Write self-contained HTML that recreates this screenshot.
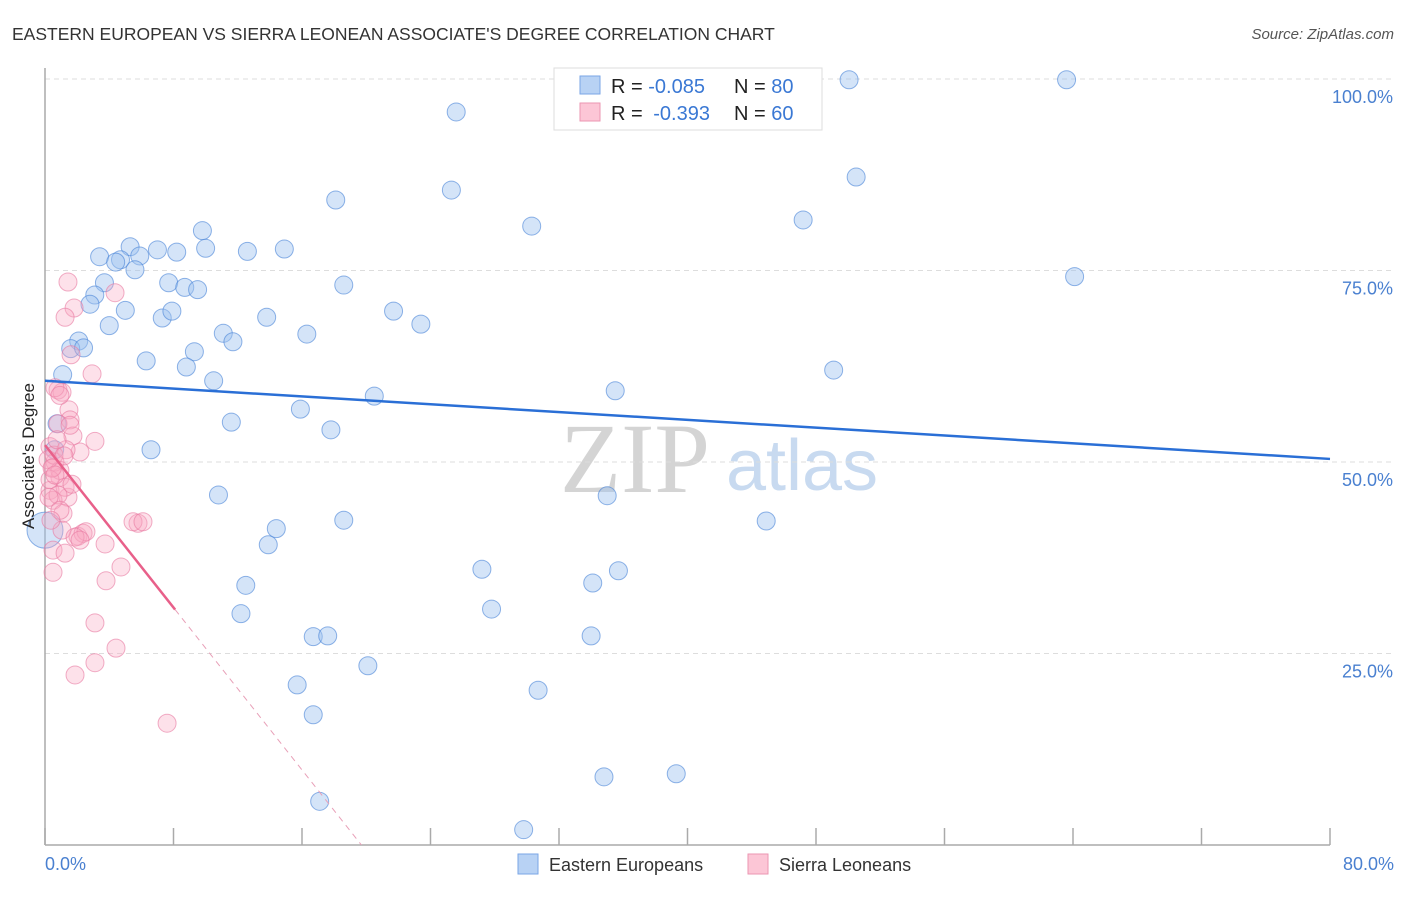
<!DOCTYPE html>
<html><head><meta charset="utf-8">
<style>
body{margin:0;background:#fff;font-family:"Liberation Sans",sans-serif;}
svg text{font-family:"Liberation Sans",sans-serif;}
</style></head>
<body>
<svg width="1406" height="892" viewBox="0 0 1406 892" xmlns="http://www.w3.org/2000/svg">
<text x="12" y="40" font-size="17.5" fill="#333">EASTERN EUROPEAN VS SIERRA LEONEAN ASSOCIATE'S DEGREE CORRELATION CHART</text>
<text x="1394" y="39" font-size="15" font-style="italic" fill="#555" text-anchor="end">Source: ZipAtlas.com</text>
<g>
<text x="635" y="492" font-size="100" style="font-family:'Liberation Serif',serif" fill="#d4d4d4" text-anchor="middle">ZIP</text>
<text x="802" y="490" font-size="72" fill="#c8daf0" text-anchor="middle">atlas</text>
</g>
<g id="grid"></g>
<g id="axes"></g>
<g id="marks"></g>
<text transform="translate(34,456) rotate(-90)" font-size="17" fill="#222" text-anchor="middle">Associate's Degree</text>
<text x="45" y="870" font-size="18" fill="#4a80d0">0.0%</text>
<text x="1394" y="870" font-size="18" fill="#4a80d0" text-anchor="end">80.0%</text>
<g>
<rect x="554" y="68" width="268" height="62" fill="#fff" stroke="#ddd"/>
<rect x="580" y="76" width="20" height="18" fill="#b8d2f4" stroke="#7aa6e6"/>
<rect x="580" y="103" width="20" height="18" fill="#fcc6d6" stroke="#eb96b2"/>
<text x="611" y="93" font-size="20" fill="#222">R = <tspan fill="#3a78d4">-0.085</tspan><tspan x="734">N = </tspan><tspan fill="#3a78d4">80</tspan></text>
<text x="611" y="120" font-size="20" fill="#222">R = <tspan fill="#3a78d4" dx="5">-0.393</tspan><tspan x="734">N = </tspan><tspan fill="#3a78d4">60</tspan></text>
</g>
<g>
<rect x="518" y="854" width="20" height="20" fill="#b8d2f4" stroke="#7aa6e6"/>
<text x="549" y="871" font-size="18" fill="#333">Eastern Europeans</text>
<rect x="748" y="854" width="20" height="20" fill="#fcc6d6" stroke="#eb96b2"/>
<text x="779" y="871" font-size="18" fill="#333">Sierra Leoneans</text>
</g>
</svg>
<script>
const yTicks=[25,50,75,100];
const yTickLabels=["25.0%","50.0%","75.0%","100.0%"];
const xTickVals=[0,8,16,24,32,40,48,56,64,72,80];
const blueX=[50.06,63.6,25.6,25.3,50.5,18.1,30.3,47.2,9.8,5.3,7.0,8.2,10.0,12.6,14.9,3.4,4.7,4.4,5.9,5.6,64.1,7.7,8.7,9.5,3.7,3.1,2.8,18.6,5.0,7.3,7.9,13.8,21.7,23.4,4.0,11.1,16.3,11.7,2.1,1.6,2.4,9.3,6.3,8.8,49.1,1.1,10.5,35.5,20.5,15.9,11.6,0.75,17.8,0.6,6.6,10.8,35.0,18.6,44.9,14.4,13.9,27.2,35.7,12.5,34.1,27.8,12.2,16.7,17.6,34.0,20.1,15.7,30.7,16.7,39.3,34.8,17.1,29.8,0];
const blueY=[99.9,99.9,95.7,85.5,87.2,84.2,80.8,81.6,80.2,78.1,77.7,77.4,77.9,77.5,77.8,76.8,76.4,76.1,76.9,75.1,74.2,73.4,72.8,72.5,73.4,71.8,70.6,73.1,69.8,68.8,69.7,68.9,69.7,68.0,67.8,66.8,66.7,65.7,65.8,64.8,64.9,64.4,63.2,62.4,62.0,61.4,60.6,59.3,58.6,56.9,55.2,55.0,54.2,51.6,51.6,45.7,45.6,42.4,42.3,41.3,39.2,36.0,35.8,33.9,34.2,30.8,30.2,27.2,27.3,27.3,23.4,20.9,20.2,17.0,9.3,8.9,5.7,2.0,41.1];
const blueWeight=[1,1,1,1,1,1,1,1,1,1,1,1,1,1,1,1,1,1,1,1,1,1,1,1,1,1,1,1,1,1,1,1,1,1,1,1,1,1,1,1,1,1,1,1,1,1,1,1,1,1,1,1,1,1,1,1,1,1,1,1,1,1,1,1,1,1,1,1,1,1,1,1,1,1,1,1,1,1,3];
const pinkX=[1.43,4.36,1.81,1.25,1.62,2.93,0.81,1.06,0.62,1.49,1.56,0.81,1.74,3.11,2.18,0.31,0.5,0.93,0.62,0.31,1.43,0.5,1.12,2.05,2.37,3.74,5.79,5.48,6.1,0.5,1.25,0.5,4.73,3.8,3.11,4.42,3.11,1.87,7.6,0.93,0.31,1.25,0.81,0.25,1.06,2.55,0.93,0.19,1.31,0.56,0.44,1.87,0.93,1.56,0.75,1.18,0.62,1.68,2.18,0.37];
const pinkY=[73.5,72.1,70.1,68.9,64.0,61.5,59.4,59.1,59.7,56.8,55.5,55.0,53.4,52.7,51.3,52.0,49.3,48.0,50.0,46.3,45.4,45.0,43.3,40.3,40.7,39.3,42.0,42.2,42.2,38.5,38.1,35.6,36.3,34.5,29.0,25.7,23.8,22.2,15.9,48.9,47.7,46.7,45.7,45.4,41.1,40.9,43.7,50.3,51.6,50.9,49.2,40.2,58.7,54.8,52.9,50.8,48.3,47.1,39.8,42.4];
const blueLine=[60.6,50.4];   // y at x=0 and x=80
const pinkLine=[52.2,-2.65];  // intercept, slope
const pinkSolidEnd=8.1;

const X0=45,X1=1330,Y0=845,Y100=79;
const sx=v=>X0+(X1-X0)*v/80;
const sy=v=>Y0-(Y0-Y100)*v/100;
const NS="http://www.w3.org/2000/svg";
function mk(tag,attrs,parent){const e=document.createElementNS(NS,tag);for(const k in attrs)e.setAttribute(k,attrs[k]);parent.appendChild(e);return e;}
const grid=document.getElementById('grid'),axes=document.getElementById('axes'),marks=document.getElementById('marks');
yTicks.forEach((t,i)=>{
  const l=mk('line',{x1:X0,x2:1393,y1:sy(t),y2:sy(t),stroke:'#ddd','stroke-dasharray':'5,4'},grid);
  
  
  const tx=mk('text',{x:1393,y:sy(t)+24,'font-size':18,fill:'#4a80d0','text-anchor':'end'},grid);
  tx.textContent=yTickLabels[i];
  
  
});
const ya=mk('line',{x1:X0,x2:X0,y1:68,y2:Y0,stroke:'#aaa','stroke-width':1.5},axes);


const xa=mk('line',{x1:X0,x2:X1,y1:Y0,y2:Y0,stroke:'#aaa','stroke-width':1.5},axes);


xTickVals.forEach(v=>{
  const t=mk('line',{x1:sx(v),x2:sx(v),y1:828,y2:Y0,stroke:'#aaa','stroke-width':1.5},axes);
  
  
});
blueX.forEach((v,i)=>{
  const c=mk('circle',{cx:sx(v),cy:sy(blueY[i]),r:9*blueWeight[i]/(blueWeight[i]>1?1.5:1),fill:'rgba(160,196,240,0.45)',stroke:'rgba(70,130,215,0.6)','stroke-width':1},marks);
  
  
});
pinkX.forEach((v,i)=>{
  const c=mk('circle',{cx:sx(v),cy:sy(pinkY[i]),r:9,fill:'rgba(248,170,195,0.35)',stroke:'rgba(232,120,160,0.6)','stroke-width':1},marks);
  
  
});
const bl=mk('line',{x1:sx(0),y1:sy(blueLine[0]),x2:sx(80),y2:sy(blueLine[1]),stroke:'#2a6fd6','stroke-width':2.5},marks);


const pz=-pinkLine[0]/pinkLine[1];
const pl=mk('line',{x1:sx(0),y1:sy(pinkLine[0]),x2:sx(pinkSolidEnd),y2:sy(pinkLine[0]+pinkLine[1]*pinkSolidEnd),stroke:'#e8608a','stroke-width':2.5},marks);


const pd=mk('line',{x1:sx(pinkSolidEnd),y1:sy(pinkLine[0]+pinkLine[1]*pinkSolidEnd),x2:sx(pz),y2:sy(0),stroke:'#e8a0b8','stroke-width':1,'stroke-dasharray':'6,5'},marks);


</script>
</body></html>
